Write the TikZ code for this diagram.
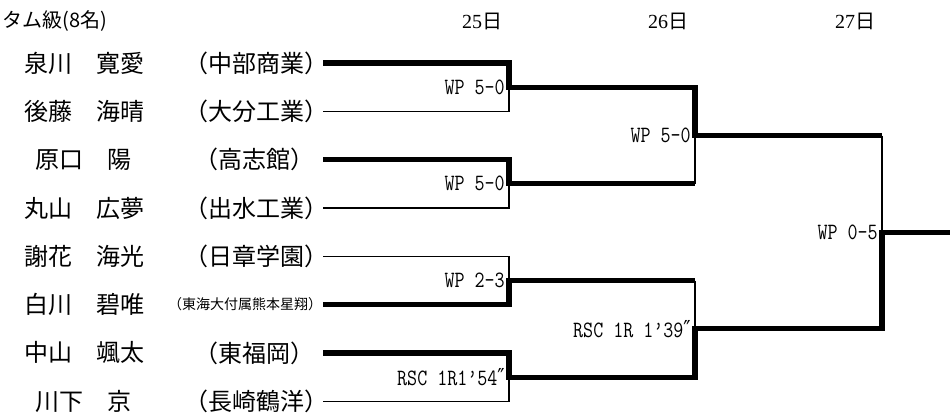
\documentclass[tikz,border=0pt]{standalone}
\usepackage{graphicx}
\usepackage{fontspec}
\newfontfamily\jp{Noto Sans CJK JP}
\newfontfamily\sym{DejaVu Serif}
\newfontfamily\lsr{Liberation Serif}
\newcommand{\tallres}[1]{\scalebox{1}[1.2]{#1}}
\begin{document}
\begin{tikzpicture}[x=0.75pt,y=-0.75pt,
  thinln/.style={line width=1pt,line join=miter},
  thickln/.style={line width=3.8pt,line join=miter},
  nm/.style={font=\jp\fontsize{18}{18}\selectfont,inner sep=0pt},
  sch/.style={font=\jp\fontsize{18}{18}\selectfont,inner sep=0pt},
  schs/.style={font=\jp\fontsize{10.5}{11}\selectfont,inner sep=0pt},
  hdr/.style={font=\jp\fontsize{15}{15}\selectfont,inner sep=0pt},
  res/.style={font=\ttfamily\fontsize{14.6}{15}\selectfont,anchor=east,inner sep=0pt}]
\useasboundingbox (0,0) rectangle (950,414);

% header
\node[hdr,anchor=west] (title) at (2,21) {タム級(8名)};
\node[hdr] (d25) at (482,21) {{\lsr 25}日};
\node[hdr] (d26) at (668,21) {{\lsr 26}日};
\node[hdr] (d27) at (855,21) {{\lsr 27}日};

% names and schools
\node[nm] (n1) at (84,63)     {泉川　寛愛};
\node[nm] (n2) at (84,111.33) {後藤　海晴};
\node[nm] (n3) at (84,159.67) {原口　陽};
\node[nm] (n4) at (84,208)    {丸山　広夢};
\node[nm] (n5) at (84,256.33) {謝花　海光};
\node[nm] (n6) at (84,304.67) {白川　碧唯};
\node[nm] (n7) at (84,353)    {中山　颯太};
\node[nm] (n8) at (84,401.33) {川下　京};

\node[sch]  (s1) at (256,63)     {（中部商業）};
\node[sch]  (s2) at (256,111.33) {（大分工業）};
\node[sch]  (s3) at (254,159.67) {（高志館）};
\node[sch]  (s4) at (256,208)    {（出水工業）};
\node[sch]  (s5) at (256,256.33) {（日章学園）};
\node[schs] (s6) at (245,304.67) {（東海大付属熊本星翔）};
\node[sch]  (s7) at (254,353)    {（東福岡）};
\node[sch]  (s8) at (256,401.33) {（長崎鶴洋）};

% bracket coordinates
\coordinate (r1) at (323,63);     \coordinate (a1) at (509,63);
\coordinate (r2) at (323,111.33); \coordinate (a2) at (509,111.33);
\coordinate (r3) at (323,159.67); \coordinate (a3) at (509,159.67);
\coordinate (r4) at (323,208);    \coordinate (a4) at (509,208);
\coordinate (r5) at (323,256.33); \coordinate (a5) at (509,256.33);
\coordinate (r6) at (323,304.67); \coordinate (a6) at (509,304.67);
\coordinate (r7) at (323,353);    \coordinate (a7) at (509,353);
\coordinate (r8) at (323,401.33); \coordinate (a8) at (509,401.33);
\coordinate (m1) at (509,87.17);  \coordinate (b1) at (695,87.17);
\coordinate (m2) at (509,183.83); \coordinate (b2) at (695,183.83);
\coordinate (m3) at (509,280.5);  \coordinate (b3) at (695,280.5);
\coordinate (m4) at (509,377.17); \coordinate (b4) at (695,377.17);
\coordinate (M1) at (695,135.5);  \coordinate (c1) at (882,135.5);
\coordinate (M2) at (695,328.83); \coordinate (c2) at (882,328.83);
\coordinate (F)  at (882,232.17); \coordinate (E)  at (950,232.17);

% losers (thin)
\draw[thinln] (r2) -- (a2) -- (m1);
\draw[thinln] (r4) -- (a4) -- (m2);
\draw[thinln] (r5) -- (a5) -- (m3);
\draw[thinln] (r8) -- (a8) -- (m4);
\draw[thinln] (b2) -- (M1);
\draw[thinln] (b3) -- (M2);
\draw[thinln] (c1) -- (F);

% winners (thick)
\draw[thickln] (r1) -- (a1) -- (m1) -- (b1) -- (M1) -- (c1);
\draw[thickln] (r3) -- (a3) -- (m2) -- (b2);
\draw[thickln] (r6) -- (a6) -- (m3) -- (b3);
\draw[thickln] (r7) -- (a7) -- (m4) -- (b4) -- (M2) -- (c2) -- (F) -- (E);

% results
\node[res] (l1) at ([xshift=-3pt]m1) {\tallres{WP 5-0}};
\node[res] (l2) at ([xshift=-3pt]m2) {\tallres{WP 5-0}};
\node[res] (l3) at ([xshift=-3pt]m3) {\tallres{WP 2-3}};
\node[res] (l4) at ([xshift=-3pt]m4) {\tallres{RSC 1R1’54{\sym ″}}};
\node[res] (l5) at ([xshift=-3pt]M1) {\tallres{WP 5-0}};
\node[res] (l6) at ([xshift=-3pt]M2) {\tallres{RSC 1R 1’39{\sym ″}}};
\node[res] (l7) at ([xshift=-3pt]F)  {\tallres{WP 0-5}};
\end{tikzpicture}
\end{document}
